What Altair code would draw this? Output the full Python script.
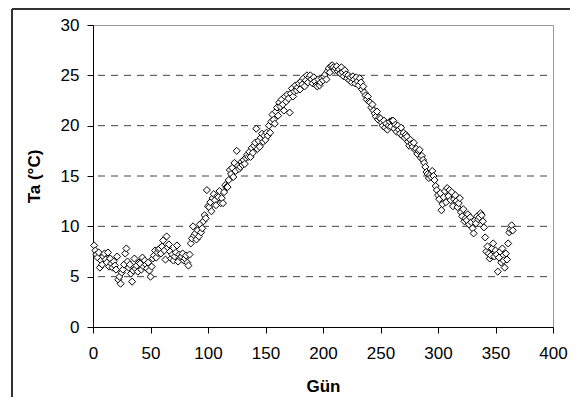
import altair as alt
import pandas as pd

# Daily air temperature (°C), day 1..365
ta_values = [
    8.1, 7.6, 7.2, 6.9, 7.4, 5.9, 6.6, 6.2, 7.0, 7.3,
    6.7, 6.4, 7.4, 6.0, 6.8, 6.3, 5.9, 6.5, 6.1, 5.7,
    7.0, 4.7, 5.0, 4.3, 5.4, 5.7, 6.2, 7.3, 7.8, 6.5,
    5.9, 6.2, 5.3, 4.5, 5.6, 6.8, 5.8, 6.1, 5.5, 6.4,
    6.3, 5.7, 6.9, 6.0, 6.6, 6.2, 5.8, 6.4, 5.6, 5.0,
    6.0, 6.8, 7.1, 7.6, 6.9, 7.4, 7.7, 7.8, 7.3, 8.0,
    8.6, 7.6, 6.7, 9.0, 7.9, 8.2, 7.5, 6.8, 7.2, 6.6,
    7.0, 7.4, 8.1, 6.5, 7.2, 6.9, 7.0, 7.3, 6.6, 6.8,
    7.1, 6.4, 6.1, 7.2, 8.3, 8.8, 10.0, 9.1, 9.3, 8.7,
    9.6, 9.0, 10.2, 9.4, 9.8, 10.5, 11.1, 10.8, 13.6, 12.0,
    11.9, 12.4, 11.5, 12.8, 13.2, 12.6, 12.1, 13.0, 12.9, 13.5,
    12.3, 12.8, 12.3, 13.4, 14.1, 13.9, 13.9, 14.6, 15.6, 15.2,
    15.8, 14.9, 16.3, 15.5, 17.5, 16.0, 15.7, 15.9, 16.4, 16.1,
    16.6, 16.2, 16.8, 17.1, 16.9, 17.4, 16.9, 17.8, 17.3, 18.0,
    18.3, 19.7, 17.7, 18.5, 17.9, 18.8, 19.2, 18.4, 19.0, 18.6,
    19.3, 19.0, 20.0, 19.3, 20.4, 21.1, 20.6, 20.2, 21.4, 21.8,
    21.0, 22.3, 21.9, 22.6, 22.1, 21.5, 22.9, 22.4, 23.1, 22.7,
    21.3, 23.2, 23.7, 22.9, 23.4, 24.0, 23.5, 23.8, 24.2, 23.6,
    24.4, 24.1, 24.7, 23.9, 24.5, 25.0, 24.3, 24.8, 25.0, 24.6,
    24.2, 24.8, 24.4, 24.0, 23.9, 24.6, 24.0, 24.3, 24.7, 24.5,
    24.9, 25.1, 24.6, 25.4, 25.7, 25.3, 25.9, 26.0, 25.8, 25.5,
    25.7, 25.9, 25.4, 25.6, 25.2, 25.8, 25.3, 24.9, 25.5, 25.1,
    24.7, 25.0, 24.5, 24.8, 24.3, 24.9, 24.6, 24.2, 24.8, 24.4,
    24.0, 24.7, 24.3, 23.6, 23.9, 23.3, 23.0, 22.6, 22.9, 22.4,
    22.3, 21.8, 22.1, 21.5, 21.2, 20.9, 21.4, 20.6, 20.8, 20.7,
    20.3, 20.0, 20.5, 19.8, 20.2, 19.6, 20.0, 20.4, 19.9, 20.5,
    20.5, 19.7, 20.1, 19.4, 20.0, 19.6, 19.2, 19.8, 19.0, 19.3,
    18.8, 19.1, 18.9, 18.4, 18.0, 18.6, 18.2, 17.9, 18.3, 17.6,
    17.7, 17.2, 17.5, 17.6, 16.8, 17.0, 16.6, 16.3, 15.9, 15.4,
    15.2, 14.8, 15.1, 14.9, 15.5, 15.0, 14.6, 14.0, 13.6, 13.1,
    12.7, 13.3, 11.6, 12.2, 12.9, 13.5, 12.4, 13.8, 13.0, 13.6,
    12.6, 13.4, 12.0, 12.7, 13.1, 12.5, 11.9, 12.3, 12.8, 11.4,
    11.0, 11.7, 10.5, 10.8, 10.6, 11.2, 10.2, 10.9, 10.4, 9.8,
    9.3, 10.6, 10.3, 11.0, 10.7, 10.9, 11.3, 11.1, 10.5, 9.9,
    8.9, 7.5, 8.0, 7.3, 6.8, 7.1, 7.8, 8.3, 7.0, 7.6,
    7.2, 5.5, 6.9, 7.5, 6.4, 7.8, 6.6, 5.9, 7.3, 6.7,
    8.3, 9.4, 9.7, 10.1, 9.6,
]
days = list(range(1, len(ta_values) + 1))
x_ticks = [0, 50, 100, 150, 200, 250, 300, 350, 400]
y_ticks = [0, 5, 10, 15, 20, 25, 30]
grid_levels = [5, 10, 15, 20, 25]

df = pd.DataFrame({"day": days, "ta": ta_values})
grid_df = pd.DataFrame({"level": grid_levels})

FONT = "Liberation Sans"

x_scale = alt.Scale(domain=[0, 400], nice=False)
y_scale = alt.Scale(domain=[0, 30], nice=False)

y_axis = alt.Axis(
    values=y_ticks, title="Ta (°C)", grid=False, labelPadding=8, labelFlush=False,
    titleX=-59, titleY=151, titleAngle=-90,
    titleBaseline="middle", titleAlign="center",
)
x_axis = alt.Axis(
    values=x_ticks, title="Gün", grid=False, labelPadding=12, labelFlush=False,
    titleX=230, titleY=59, titleBaseline="middle", titleAlign="center",
)

grid = alt.Chart(grid_df).mark_rule(
    color="#444444", strokeDash=[7, 6], strokeDashOffset=7, strokeWidth=1
).encode(y=alt.Y("level:Q", scale=y_scale, axis=y_axis))

points = alt.Chart(df).mark_point(
    shape="diamond", size=50, filled=True, fill="white",
    stroke="black", strokeWidth=1, opacity=1
).encode(
    x=alt.X("day:Q", scale=x_scale, axis=x_axis),
    y=alt.Y("ta:Q", scale=y_scale, axis=y_axis),
)

frame_left = alt.Chart(grid_df).mark_rule(color="#333333", strokeWidth=1.5).encode(
    x=alt.value(-81), y=alt.value(-16), y2=alt.value(400)
)
frame_top = alt.Chart(grid_df).mark_rule(color="#333333", strokeWidth=1.5).encode(
    x=alt.value(-81), x2=alt.value(480), y=alt.value(-16)
)

chart = alt.layer(grid, points, frame_left, frame_top).properties(
    width=460, height=302,
    autosize=alt.AutoSizeParams(type="none"),
    padding={"left": 85, "top": 17, "right": 17, "bottom": 70},
).configure_view(
    stroke="#999999", strokeWidth=1
).configure_axis(
    domainColor="black", domainWidth=1, tickColor="black", tickSize=6,
    tickWidth=1, labelFont=FONT, labelFontSize=17, labelColor="black",
    titleFont=FONT, titleFontSize=17, titleColor="black", titleFontWeight="bold",
)

chart.save("out.html", embed_options={"renderer": "svg", "actions": False})
